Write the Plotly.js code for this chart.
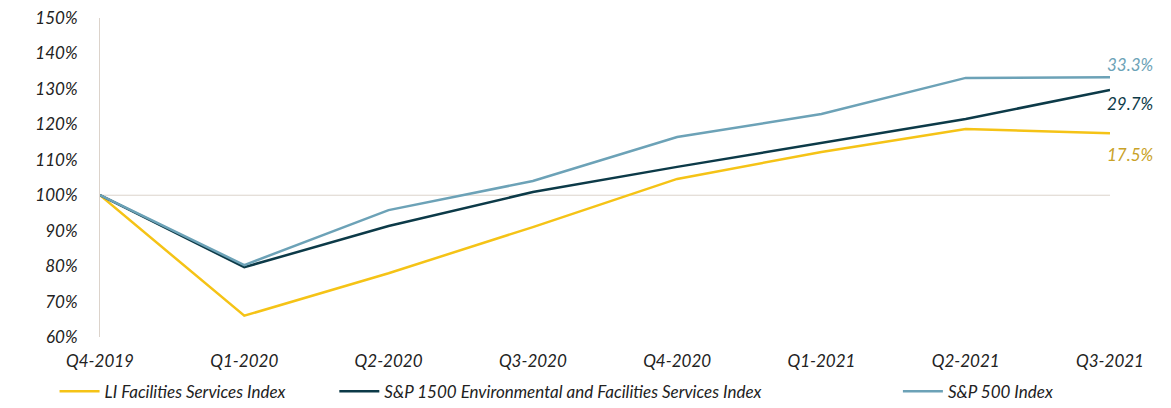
<!DOCTYPE html>
<html>
<head>
<meta charset="utf-8">
<script src="https://cdn.plot.ly/plotly-3.0.1.min.js"></script>
<style>html,body{margin:0;padding:0;background:#fff;}#chart{width:1171px;height:408px;}</style>
</head>
<body>
<div id="chart"></div>
<script>
var quarters = ["Q4-2019","Q1-2020","Q2-2020","Q3-2020","Q4-2020","Q1-2021","Q2-2021","Q3-2021"];
var liFacilities = [100, 66.0, 78.0, 91.0, 104.6, 112.2, 118.7, 117.5];
var sp1500Env = [100, 79.7, 91.3, 100.9, 108.0, 114.7, 121.5, 129.7];
var sp500 = [100, 80.3, 95.8, 104.0, 116.4, 122.9, 133.1, 133.3];
var seriesNames = ["LI Facilities Services Index", "S&P 1500 Environmental and Facilities Services Index", "S&P 500 Index"];
var baseline = 100;

var colors = ["#F5C316", "#0C3A48", "#6CA2B7"];
var labelColors = ["#C9A227", "#0C3A48", "#6CA2B7"];
var family = "Lato, 'Open Sans', sans-serif";
function f(size, color){ return {family: family, size: size, color: color || "#222", style: "italic"}; }
var legendIds = ["legend", "legend2", "legend3"];
var legendX = [-0.045, 0.232, 0.79];

var allSeries = [liFacilities, sp1500Env, sp500];
var traces = allSeries.map(function(vals, i){
  return {
    x: quarters, y: vals, type: "scatter", mode: "lines", name: seriesNames[i],
    legend: legendIds[i],
    line: {color: colors[i], width: 2.5}, hoverinfo: "skip"
  };
});

var yShifts = [-21, -14, 13];
var annotations = allSeries.map(function(vals, i){
  var last = vals[vals.length-1];
  return {
    x: quarters.length-1, y: last, xref: "x", yref: "y",
    text: (last - baseline).toFixed(1) + "%",
    showarrow: false, xanchor: "right", yanchor: "middle",
    xshift: 46, yshift: yShifts[i],
    font: f(17, labelColors[i])
  };
});

var layout = {
  width: 1171, height: 408,
  margin: {l: 100, r: 61, t: 18, b: 71, autoexpand: false},
  paper_bgcolor: "#fff", plot_bgcolor: "#fff",
  font: f(17),
  showlegend: true,
  xaxis: {
    type: "category", range: [0, quarters.length-1], showgrid: false, zeroline: false,
    showline: false, ticks: "", tickfont: f(17),
    ticklabelstandoff: 12, automargin: false
  },
  yaxis: {
    range: [60, 150], dtick: 10, showgrid: false, zeroline: false,
    showline: true, linecolor: "#DCD3CB", linewidth: 1,
    ticks: "", ticksuffix: "%", tickfont: f(17),
    ticklabelstandoff: 18, automargin: false
  },
  shapes: [{type: "line", xref: "paper", x0: 0, x1: 1, yref: "y", y0: baseline, y1: baseline,
            line: {color: "#DCD3CB", width: 1}, layer: "below"}],
  annotations: annotations
};
legendIds.forEach(function(id, i){
  layout[id] = {orientation: "h", x: legendX[i], xanchor: "left", y: -0.115, yanchor: "top",
    font: f(17), itemwidth: 40, bgcolor: "rgba(0,0,0,0)"};
});

Plotly.newPlot("chart", traces, layout, {displayModeBar: false, staticPlot: true});
</script>
</body>
</html>
